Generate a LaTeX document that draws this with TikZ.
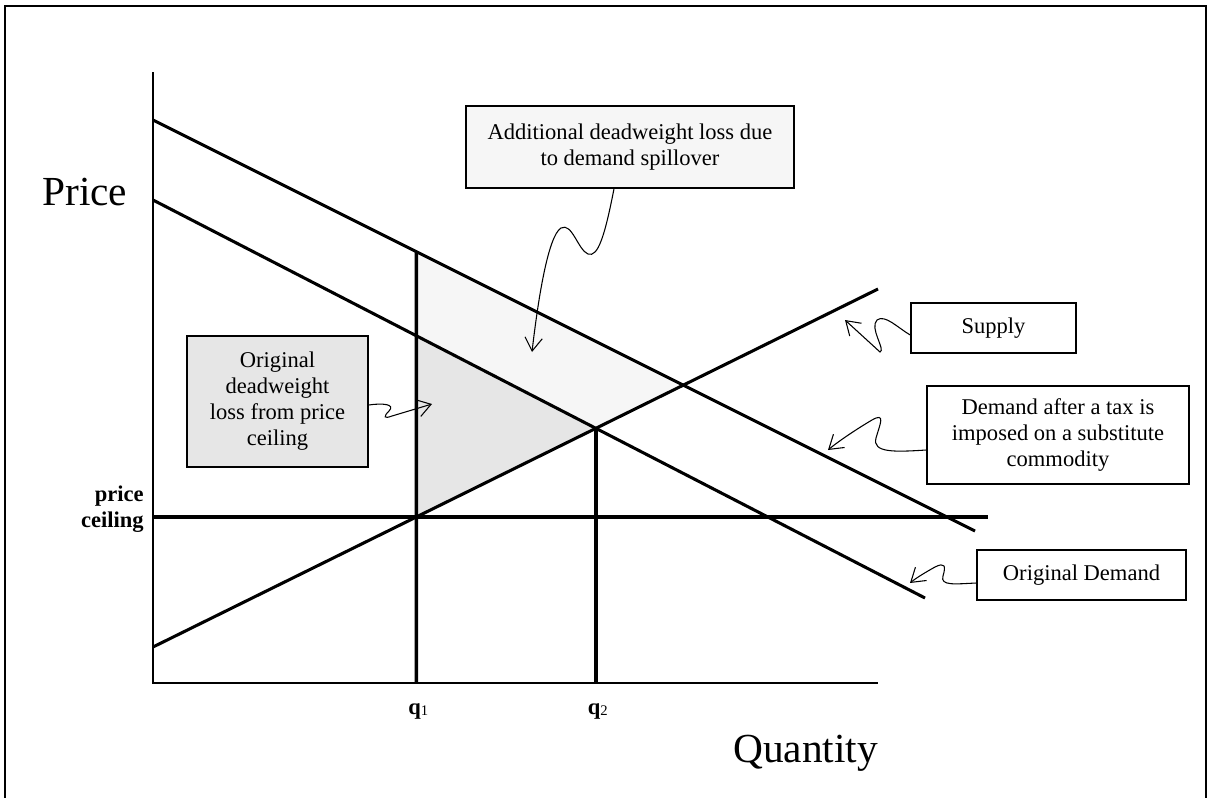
\documentclass[tikz,border=0pt]{standalone}
\usepackage{fontspec}
\setmainfont{Liberation Serif}
\usetikzlibrary{arrows.meta,calc}
\definecolor{darkshade}{HTML}{E6E6E6}
\definecolor{lightshade}{HTML}{F6F6F6}
\newdimen\pxu \pxu=0.75pt
\tikzset{
  frameline/.style={line width=1.6pt},
  axisline/.style={line width=1.1pt},
  curveline/.style={line width=2.3pt},
  qline/.style={line width=2.6pt},
  box/.style={draw, line width=1.1pt, align=center, inner sep=2pt,
    font=\fontsize{16.9pt}{19.5pt}\selectfont},
  wavy/.style={line width=0.8pt, -{Straight Barb[length=10pt,width=13pt,line width=0.8pt]}},
  biglabel/.style={font=\fontsize{31pt}{35pt}\selectfont, inner sep=0pt},
  qlabel/.style={font=\fontsize{16.9pt}{19.5pt}\selectfont, inner sep=0pt},
}
\begin{document}
\begin{tikzpicture}[x=0.75pt,y=-0.75pt]
\useasboundingbox (0,0) rectangle (1207,797);
\draw[frameline] (5,6) rectangle (1206,830);

% geometry
\coordinate (O) at (153,683);
\coordinate (Ytop) at (153,72);
\coordinate (Xend) at (878,683);
\coordinate (D1s) at (153,120);
\coordinate (D1e) at (975,531);
\coordinate (D0s) at (153,200);
\coordinate (D0e) at (925,598);
\coordinate (Ss) at (153,647);
\coordinate (Se) at (878,289);
\coordinate (Ps) at (153,517);
\coordinate (Pe) at (988,517);

\coordinate (A) at (intersection of Ss--Se and Ps--Pe);
\coordinate (B) at (intersection of Ss--Se and D0s--D0e);
\coordinate (C) at (intersection of Ss--Se and D1s--D1e);
\coordinate (Aup) at ($(A)+(0,-100)$);
\coordinate (Q1t) at (intersection of A--Aup and D1s--D1e);
\coordinate (Q1m) at (intersection of A--Aup and D0s--D0e);
\coordinate (Q1b) at (A |- O);
\coordinate (Q2b) at (B |- O);

% shaded areas
\fill[lightshade] (Q1t) -- (C) -- (B) -- (Q1m) -- cycle;
\fill[darkshade] (A) -- (Q1m) -- (B) -- cycle;

% axes
\draw[axisline] (Ytop) -- (O) -- (Xend);

% curves
\draw[curveline] (D1s) -- (D1e);
\draw[curveline] (D0s) -- (D0e);
\draw[curveline] (Ss) -- (Se);
\draw[curveline] (Ps) -- (Pe);
\draw[qline] (Q1t) -- (Q1b);
\draw[qline] (B) -- (Q2b);

% labels
\node[biglabel, anchor=base west] (price) at (42,205) {Price};
\node[biglabel, anchor=base west] (qty) at (733,762) {Quantity};
\node[qlabel, align=right, anchor=east, font=\fontsize{16.9pt}{19.5pt}\selectfont\bfseries] (pc) at (144,509) {price\\ceiling};
\node[qlabel] (q1) at ($(Q1b)+(2,28)$) {\textbf{q}\raisebox{-1pt}{\fontsize{11pt}{11pt}\selectfont 1}};
\node[qlabel] (q2) at ($(Q2b)+(2,28)$) {\textbf{q}\raisebox{-1pt}{\fontsize{11pt}{11pt}\selectfont 2}};

% boxes
\node[box, fill=lightshade, minimum width=328\pxu, minimum height=82\pxu] (b1) at (630,147)
  {Additional deadweight loss due\\to demand spillover};
\node[box, fill=darkshade, minimum width=181\pxu, minimum height=131\pxu] (b2) at (277.5,401.5)
  {Original\\deadweight\\loss from price\\ceiling};
\node[box, minimum width=165\pxu, minimum height=50\pxu] (b3) at (993.5,328) {Supply};
\node[box, minimum width=262\pxu, minimum height=98\pxu] (b4) at (1058,435)
  {Demand after a tax is\\imposed on a substitute\\commodity};
\node[box, minimum width=209\pxu, minimum height=50\pxu] (b5) at (1081.5,575) {Original Demand};

% wavy arrows
\draw[wavy] ($(b1.south)+(-16,0)$) .. controls (605,235) and (598,258) .. (588,254)
  .. controls (578,250) and (572,222) .. (561,228)
  .. controls (548,236) and (538,300) .. (532,352);
\draw[wavy] ($(b2.east)+(0,3.5)$) .. controls (382,403) and (396,404) .. (389,411)
  .. controls (383,417) and (384,419) .. (392,416) -- (432,404);
\draw[wavy] ($(b3.west)+(0,7)$) .. controls (898,328) and (885,314) .. (877,320)
  .. controls (869,328) and (886,350) .. (880,352) -- (845,320);
\draw[wavy] ($(b4.west)+(0,15)$) .. controls (895,452) and (872,453) .. (876,438)
  .. controls (880,424) and (886,412) .. (872,420)
  .. controls (860,427) and (840,440) .. (828,450);
\draw[wavy] ($(b5.west)+(0,8)$) .. controls (955,584) and (940,586) .. (943,576)
  .. controls (946,566) and (945,562) .. (935,567)
  .. controls (926,572) and (916,578) .. (910,583);
\end{tikzpicture}
\end{document}
